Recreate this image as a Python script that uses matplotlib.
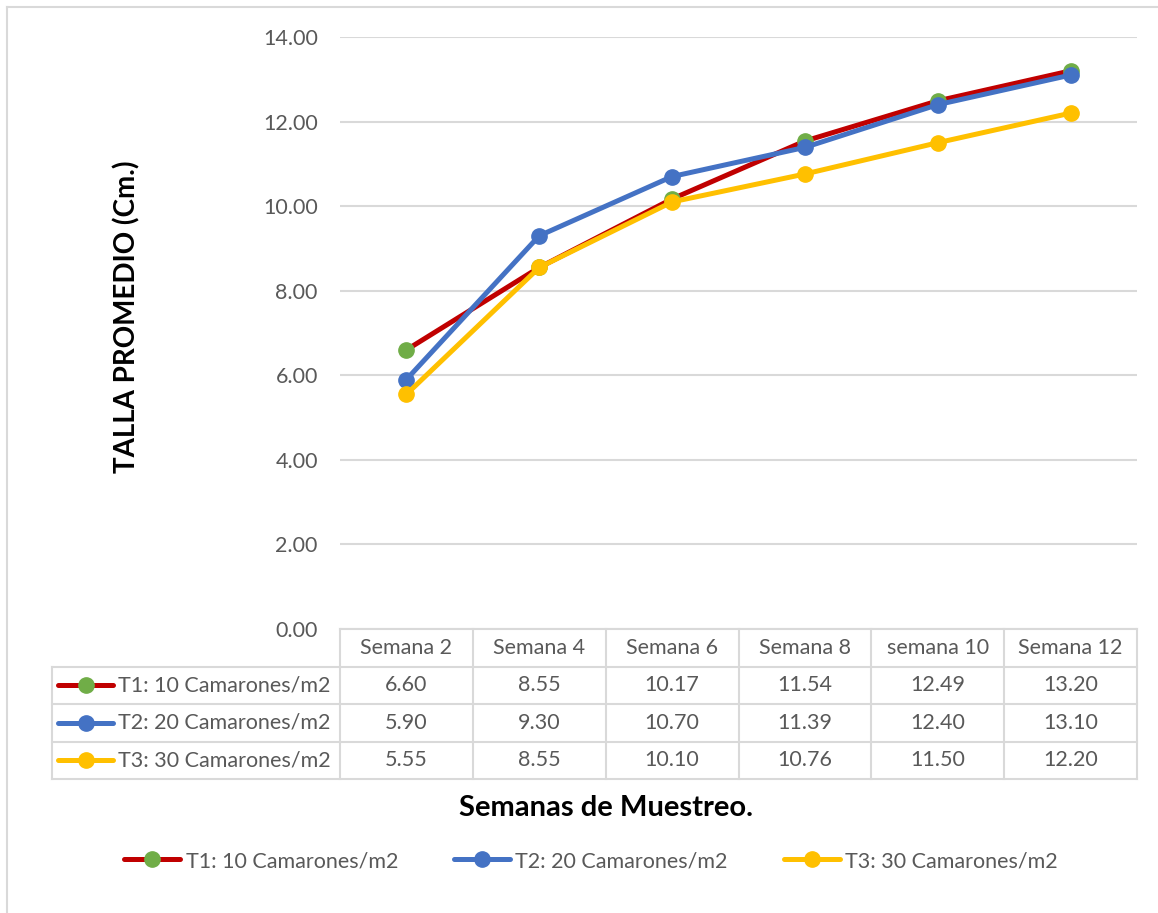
import matplotlib
matplotlib.use("Agg")
import matplotlib.pyplot as plt
from matplotlib.lines import Line2D

plt.rcParams['font.family'] = ['Lato', 'DejaVu Sans']

# Datos
semanas = ["Semana 2", "Semana 4", "Semana 6", "Semana 8", "semana 10", "Semana 12"]
t1 = [6.60, 8.55, 10.17, 11.54, 12.49, 13.20]
t2 = [5.90, 9.30, 10.70, 11.39, 12.40, 13.10]
t3 = [5.55, 8.55, 10.10, 10.76, 11.50, 12.20]
nombres = ["T1: 10 Camarones/m2", "T2: 20 Camarones/m2", "T3: 30 Camarones/m2"]
y_ticks = [0, 2, 4, 6, 8, 10, 12, 14]

gris = "#595959"
borde = "#D9D9D9"
estilos = [
    dict(color="#C00000", markerfacecolor="#70AD47", markeredgecolor="#70AD47"),
    dict(color="#4472C4", markerfacecolor="#4472C4", markeredgecolor="#4472C4"),
    dict(color="#FFC000", markerfacecolor="#FFC000", markeredgecolor="#FFC000"),
]
lw = 3.6
ms = 11
fs = 15.5

W, H = 1158, 913
fig = plt.figure(figsize=(W / 100, H / 100), dpi=100)

# Borde exterior (solo izquierda y arriba visibles)
fig.add_artist(Line2D([7 / W, 7 / W], [0, 1 - 7 / H], color=borde, lw=1.5))
fig.add_artist(Line2D([7 / W, 1], [1 - 7 / H, 1 - 7 / H], color=borde, lw=1.5))

x0, x1 = 340 / W, 1137 / W
ax = fig.add_axes([x0, 1 - 629 / H, x1 - x0, (629 - 37) / H])
xs = list(range(len(semanas)))
for serie, nombre, est in zip([t1, t2, t3], nombres, estilos):
    ax.plot(xs, serie, lw=lw, marker="o", markersize=ms, label=nombre,
            solid_capstyle="round", **est)

ax.set_xlim(-0.5, len(semanas) - 0.5)
ax.set_ylim(0, 14)
ax.set_yticks(y_ticks)
ax.set_yticklabels([f"{v:.2f}" for v in y_ticks], color=gris, fontsize=fs)
ax.tick_params(axis="y", length=0, pad=16)
ax.set_xticks([])
ax.grid(axis="y", color=borde, lw=1.5)
ax.set_axisbelow(True)
for s in ax.spines.values():
    s.set_visible(False)

fig.text(127 / W, 1 - 317 / H, "TALLA PROMEDIO (Cm.)", rotation=90,
         ha="center", va="center", fontsize=20, fontweight="bold", color="black")

# Tabla de datos
tab = fig.add_axes([x0, 1 - 779 / H, x1 - x0, (779 - 629) / H])
tab.set_xlim(-0.5, len(semanas) - 0.5)
tab.set_ylim(4, 0)
tab.axis("off")
col_w = (1137 - 340) / len(semanas)
x_izq = -0.5 - (340 - 52) / col_w
for i in range(len(semanas) + 1):
    tab.plot([i - 0.5, i - 0.5], [0, 4], color=borde, lw=1.5, clip_on=False)
tab.plot([x_izq, x_izq], [1, 4], color=borde, lw=1.5, clip_on=False)
tab.plot([-0.5, len(semanas) - 0.5], [0, 0], color=borde, lw=1.5, clip_on=False)
for r in range(1, 5):
    tab.plot([x_izq, len(semanas) - 0.5], [r, r], color=borde, lw=1.5, clip_on=False)

for i, s in enumerate(semanas):
    tab.text(i, 0.5, s, ha="center", va="center", fontsize=fs, color=gris)
for r, (serie, nombre, est) in enumerate(zip([t1, t2, t3], nombres, estilos), start=1):
    for i, v in enumerate(serie):
        tab.text(i, r + 0.5, f"{v:.2f}", ha="center", va="center", fontsize=fs, color=gris)
    lx0 = x_izq + 6 / col_w
    lx1 = x_izq + 61 / col_w
    tab.plot([lx0, lx1], [r + 0.5, r + 0.5], lw=lw, color=est["color"],
             solid_capstyle="round", clip_on=False)
    tab.plot([(lx0 + lx1) / 2], [r + 0.5], marker="o", markersize=ms,
             markerfacecolor=est["markerfacecolor"],
             markeredgecolor=est["markeredgecolor"], clip_on=False)
    tab.text(x_izq + 66 / col_w, r + 0.5, nombre, ha="left", va="center",
             fontsize=fs, color=gris)

fig.text(606 / W, 1 - 808 / H, "Semanas de Muestreo.", ha="center", va="center",
         fontsize=21, fontweight="bold", color="black")

handles, labels = ax.get_legend_handles_labels()
leg = fig.legend(handles, labels, loc="center", bbox_to_anchor=(591 / W, 1 - 861 / H),
                 ncol=3, frameon=False, fontsize=fs, handlelength=2.6,
                 handletextpad=0.25, columnspacing=2.6, labelcolor=gris)

fig.savefig("out.png", dpi=100)
